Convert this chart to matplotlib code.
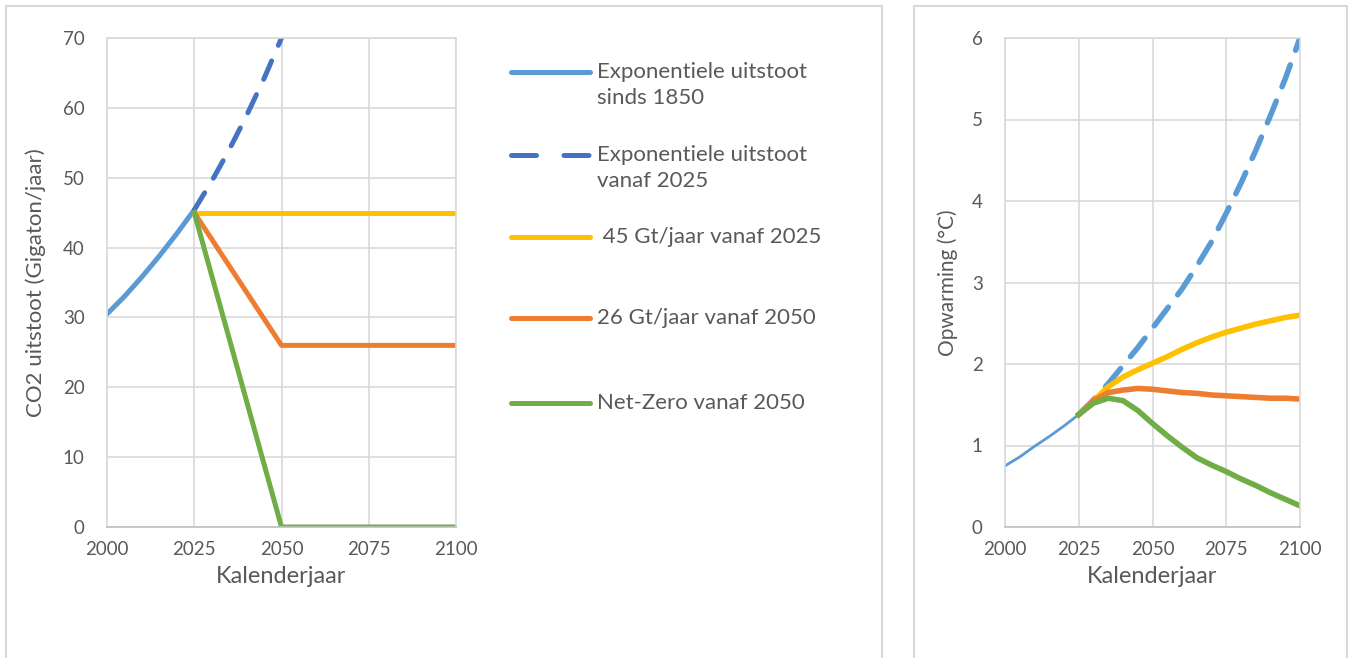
import matplotlib.pyplot as plt
from matplotlib.lines import Line2D
from matplotlib.patches import Rectangle

plt.rcParams["font.family"] = ["Lato", "DejaVu Sans"]

BLAUW = "#5B9BD5"
DONKERBLAUW = "#4472C4"
GEEL = "#FFC000"
ORANJE = "#ED7D31"
GROEN = "#70AD47"
TEKST = "#595959"
RASTER = "#D9D9D9"

# --- uitstoot (Gigaton/jaar) ---
jaren_hist = [2000, 2005, 2010, 2015, 2020, 2025]
uitstoot_hist = [30.5, 33.0, 35.8, 38.8, 42.0, 45.4]

jaren_exp = [2025, 2030, 2035, 2040, 2045, 2050]
uitstoot_exp = [45.4, 49.5, 54.0, 58.9, 64.2, 70.0]

jaren_scen = [2025, 2050, 2100]
uitstoot_45 = [45, 45, 45]
uitstoot_26 = [45, 26, 26]
uitstoot_nul = [45, 0, 0]

# --- opwarming (graden C) ---
jaren_opw = [2025, 2030, 2035, 2040, 2045, 2050, 2055, 2060, 2065, 2070,
             2075, 2080, 2085, 2090, 2095, 2100]
opw_hist = [0.75, 0.86, 0.99, 1.11, 1.24, 1.38]
opw_exp = [1.38, 1.56, 1.76, 1.98, 2.20, 2.44, 2.68, 2.92, 3.20, 3.50,
           3.85, 4.22, 4.62, 5.05, 5.50, 6.00]
opw_45 = [1.38, 1.55, 1.72, 1.84, 1.93, 2.01, 2.09, 2.18, 2.26, 2.33,
          2.39, 2.44, 2.49, 2.53, 2.57, 2.60]
opw_26 = [1.38, 1.55, 1.65, 1.68, 1.70, 1.69, 1.67, 1.65, 1.64, 1.62,
          1.61, 1.60, 1.59, 1.58, 1.58, 1.57]
opw_nul = [1.38, 1.52, 1.58, 1.55, 1.43, 1.27, 1.12, 0.98, 0.85, 0.76,
           0.68, 0.59, 0.51, 0.42, 0.34, 0.26]

legenda = [
    ("Exponentiele uitstoot\nsinds 1850", BLAUW, "-"),
    ("Exponentiele uitstoot\nvanaf 2025", DONKERBLAUW, "--"),
    (" 45 Gt/jaar vanaf 2025", GEEL, "-"),
    ("26 Gt/jaar vanaf 2050", ORANJE, "-"),
    ("Net-Zero vanaf 2050", GROEN, "-"),
]

B, H = 1350, 658
fig = plt.figure(figsize=(B / 100, H / 100), dpi=100)


def fx(px):
    return px / B


def fy(py):
    return 1 - py / H


# kaders
for x0, x1 in [(6, 882), (914, 1347)]:
    fig.add_artist(Rectangle((fx(x0), fy(700)), fx(x1 - x0), (700 - 6) / H,
                             transform=fig.transFigure, fill=False,
                             edgecolor=RASTER, linewidth=1.5))


def opmaak(ax, ymax, ystap):
    ax.set_xlim(2000, 2100)
    ax.set_ylim(0, ymax)
    ax.set_xticks([2000, 2025, 2050, 2075, 2100])
    ax.set_yticks(range(0, ymax + 1, ystap))
    ax.grid(True, color=RASTER, linewidth=1.2)
    ax.set_axisbelow(True)
    for s in ax.spines.values():
        s.set_color(RASTER)
        s.set_linewidth(1.2)
    ax.spines["bottom"].set_color("#BFBFBF")
    ax.tick_params(length=0, labelsize=13.5, colors=TEKST)
    ax.tick_params(axis="x", pad=10)
    ax.tick_params(axis="y", pad=16)
    ax.set_xlabel("Kalenderjaar", fontsize=17, color=TEKST, labelpad=6)


ax1 = fig.add_axes([fx(107), fy(527), fx(456 - 107), (527 - 38) / H])
ax1.plot(jaren_hist, uitstoot_hist, color=BLAUW, lw=3.6, solid_capstyle="round")
ax1.plot(jaren_exp, uitstoot_exp, color=DONKERBLAUW, lw=3.6, dashes=(4, 3.4),
         dash_capstyle="round")
ax1.plot(jaren_scen, uitstoot_45, color=GEEL, lw=3.6)
ax1.plot(jaren_scen, uitstoot_26, color=ORANJE, lw=3.6)
ax1.plot(jaren_scen, uitstoot_nul, color=GROEN, lw=3.6)
opmaak(ax1, 70, 10)
ax1.set_ylabel("CO2 uitstoot (Gigaton/jaar)", fontsize=16, color=TEKST, labelpad=12)

ax2 = fig.add_axes([fx(1005), fy(527), fx(1300 - 1005), (527 - 38) / H])
ax2.plot(jaren_hist, opw_hist, color=BLAUW, lw=2.0)
ax2.plot(jaren_opw, opw_exp, color=BLAUW, lw=4.0, dashes=(4.2, 2.8),
         dash_capstyle="round")
ax2.plot(jaren_opw, opw_45, color=GEEL, lw=4.0)
ax2.plot(jaren_opw, opw_26, color=ORANJE, lw=4.0)
ax2.plot(jaren_opw, opw_nul, color=GROEN, lw=4.0)
opmaak(ax2, 6, 1)
ax2.set_ylabel("Opwarming (°C)", fontsize=15, color=TEKST, labelpad=10)

# legenda
for (tekst, kleur, stijl), y in zip(legenda, [72, 155, 237, 318, 403]):
    lijn = Line2D([fx(511), fx(590)], [fy(y), fy(y)], transform=fig.transFigure,
                  color=kleur, lw=3.6, solid_capstyle="round")
    if stijl == "--":
        lijn.set_dashes((5, 5.5))
        lijn.set_dash_capstyle("round")
    fig.add_artist(lijn)
    for i, regel in enumerate(tekst.split("\n")):
        fig.text(fx(597), fy(y + 26 * i), regel, fontsize=16, color=TEKST,
                 va="center", ha="left")

fig.savefig("out.png", dpi=100, facecolor="white")
